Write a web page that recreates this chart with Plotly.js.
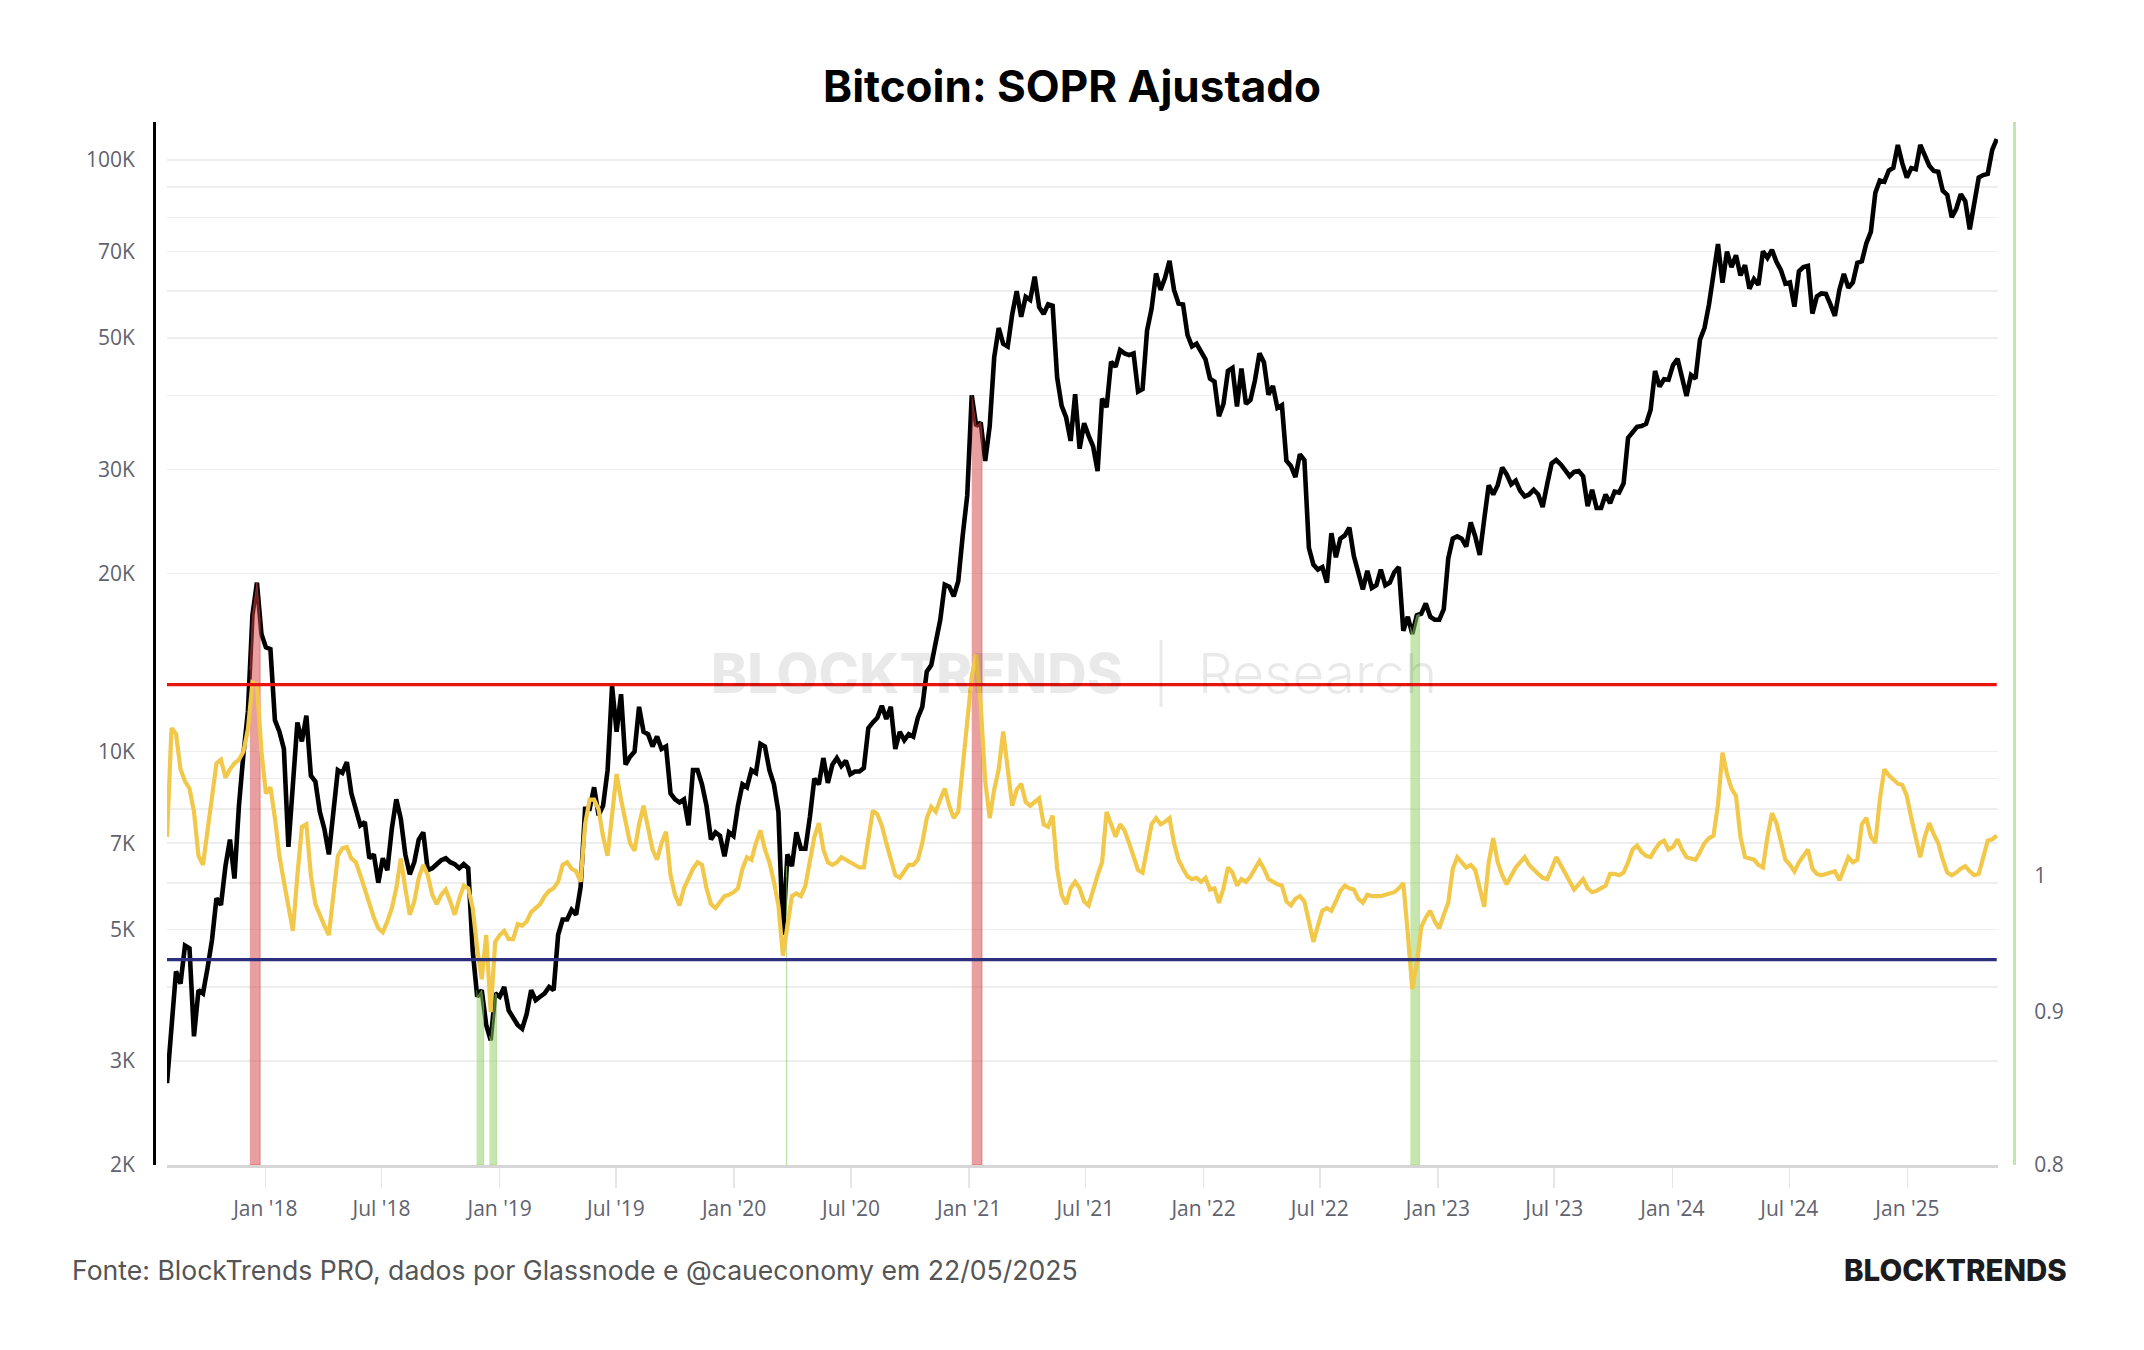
<!DOCTYPE html>
<html>
<head>
<meta charset="utf-8">
<script src="https://cdn.plot.ly/plotly-3.0.1.min.js"></script>
<style>
  html, body { margin: 0; padding: 0; background: #ffffff; }
  #chart { width: 2144px; height: 1350px; }
</style>
</head>
<body>
<div id="chart"></div>
<script>
// Weekly observations (Tuesdays). Each yearly block starts on its first Tuesday.
const blockStarts = ['2017-08-01', '2018-01-02', '2019-01-01', '2020-01-07', '2021-01-05',
                     '2022-01-04', '2023-01-03', '2024-01-02', '2025-01-07'];

// BTC price (USD), one value per week
const price2017 = [2750, 3400, 4250, 4050, 4700,            // Aug
                   4650, 3300, 3950, 3900,                  // Sep
                   4300, 4800, 5650, 5500, 6400,            // Oct
                   7100, 6100, 8100, 9900,                  // Nov
                   11700, 17000, 19300, 15800];             // Dec
const price2018 = [15000, 14900, 11300, 10800, 10100,       // Jan
                   6900, 8600, 11200, 10400,                // Feb
                   11500, 9100, 8900, 7900,                 // Mar
                   7400, 6700, 8000, 9300,                  // Apr
                   9200, 9600, 8500, 8000, 7500,            // May
                   7600, 6600, 6700, 6000,                  // Jun
                   6600, 6300, 7400, 8300, 7700,            // Jul
                   6700, 6200, 6500, 7100,                  // Aug
                   7300, 6300, 6350, 6450,                  // Sep
                   6550, 6600, 6500, 6450, 6350,            // Oct
                   6450, 6350, 4600, 3850,                  // Nov
                   3950, 3450, 3250, 3900];                 // Dec
const price2019 = [3850, 4000, 3650, 3550, 3450,            // Jan
                   3400, 3600, 3950, 3800,                  // Feb
                   3850, 3900, 4000, 3950,                  // Mar
                   4900, 5200, 5200, 5400, 5300,            // Apr
                   5900, 8000, 8000, 8700,                  // May
                   7800, 8100, 9300, 12900,                 // Jun
                   10800, 12500, 9500, 9800, 10000,         // Jul
                   11900, 10800, 10700, 10200,              // Aug
                   10600, 10100, 10200, 8500,               // Sep
                   8300, 8200, 8300, 7500, 9300,            // Oct
                   9300, 8800, 8100, 7100,                  // Nov
                   7300, 7200, 6650, 7300, 7200];           // Dec
const price2020 = [8100, 8800, 8700, 9300,                  // Jan
                   9200, 10300, 10200, 9300,                // Feb
                   8800, 7900, 4900, 6700, 6400,            // Mar
                   7300, 6850, 6850, 7750,                  // Apr
                   9000, 8800, 9750, 8850,                  // May
                   9500, 9750, 9450, 9650, 9150,            // Jun
                   9250, 9250, 9380, 10950,                 // Jul
                   11200, 11400, 11950, 11350,              // Aug
                   11900, 10100, 10800, 10450, 10700,       // Sep
                   10600, 11400, 11900, 13650,              // Oct
                   14000, 15300, 16700, 19150,              // Nov
                   19000, 18300, 19400, 23200, 27100];      // Dec
const price2021 = [40000, 35500, 36000, 31000,              // Jan
                   35500, 46400, 52000, 48900,              // Feb
                   48400, 54800, 60000, 54300, 58700,       // Mar
                   58000, 63500, 56400, 54900,              // Apr
                   57000, 56700, 42900, 38400,              // May
                   36700, 33500, 40200, 32500, 35900,       // Jun
                   34200, 32800, 29800, 39500,              // Jul
                   38200, 45600, 44700, 47700, 47100,       // Aug
                   46800, 47100, 40600, 41000,              // Sep
                   51500, 56000, 64300, 60300,              // Oct
                   63200, 67500, 60300, 57200, 57000,       // Nov
                   50600, 48400, 48900, 47600];             // Dec
const price2022 = [46000, 42700, 42200, 36900,              // Jan
                   38700, 44000, 44500, 38300,              // Feb
                   44400, 38700, 39300, 42400, 47100,       // Mar
                   45500, 40100, 41500, 38100,              // Apr
                   38500, 31000, 30400, 29100, 31800,       // May
                   31100, 22100, 20700, 20300,              // Jun
                   20500, 19300, 23400, 21300,              // Jul
                   22900, 23200, 23900, 21400, 20000,       // Aug
                   18800, 20200, 18900, 19100,              // Sep
                   20300, 19100, 19300, 20100,              // Oct
                   20500, 16000, 16900, 15800, 17000,       // Nov
                   17100, 17800, 16900, 16700];             // Dec
const price2023 = [16700, 17400, 21200, 22900, 23100,       // Jan
                   22900, 22200, 24400, 23100,              // Feb
                   21500, 24700, 28200, 27200,              // Mar
                   28200, 30200, 29400, 28300,              // Apr
                   28700, 27600, 27000, 27200, 27700,       // May
                   27200, 25900, 28300, 30700,              // Jun
                   31100, 30600, 29900, 29200,              // Jul
                   29700, 29800, 29200, 26000, 27700,       // Aug
                   25800, 25800, 27200, 26300,              // Sep
                   27500, 27400, 28400, 33900, 34600,       // Oct
                   35400, 35500, 35800, 37800,              // Nov
                   44000, 41400, 42600, 42500];             // Dec
const price2024 = [45000, 46100, 43100, 39900, 43300,       // Jan
                   42700, 49700, 52000, 57000,              // Feb
                   63800, 72100, 62000, 70000,              // Mar
                   65900, 69000, 63800, 66400, 60600,       // Apr
                   62900, 61500, 70100, 68300,              // May
                   70500, 67300, 65100, 61800,              // Jun
                   62100, 56500, 64800, 65900, 66200,       // Jul
                   55000, 58800, 59500, 59400,              // Aug
                   57000, 54500, 60300, 64200,              // Sep
                   60800, 62100, 67000, 67400, 72300,       // Oct
                   75600, 88000, 92300, 91900,              // Nov
                   96000, 97000, 106000, 98700, 93400];     // Dec
const price2025 = [96900, 96500, 106000, 101300,            // Jan
                   97800, 95800, 95500, 88700,              // Feb
                   87300, 80000, 82700, 87500,              // Mar
                   85200, 76300, 83600, 93400, 94300,       // Apr
                   94700, 104000, 108500];                  // May

// Adjusted SOPR, one value per week
const sopr2017 = [1.030, 1.120, 1.115, 1.085, 1.075,
                  1.069, 1.050, 1.015, 1.008,
                  1.035, 1.060, 1.090, 1.093, 1.078,
                  1.085, 1.090, 1.093, 1.100,
                  1.119, 1.160, 1.158, 1.100];
const sopr2018 = [1.065, 1.070, 1.045, 1.015, 0.995,
                  0.975, 0.958, 1.000, 1.038,
                  1.040, 1.000, 0.978, 0.969,
                  0.962, 0.955, 0.985, 1.015,
                  1.021, 1.022, 1.013, 1.010, 1.000,
                  0.989, 0.978, 0.968, 0.960,
                  0.957, 0.965, 0.975, 0.990, 1.013,
                  0.990, 0.970, 0.980, 0.998,
                  1.008, 1.000, 0.985, 0.978,
                  0.985, 0.989, 0.980, 0.970, 0.982,
                  0.992, 0.990, 0.975, 0.945,
                  0.923, 0.955, 0.900, 0.950];
const sopr2019 = [0.955, 0.958, 0.952, 0.952, 0.963,
                  0.962, 0.965, 0.972, 0.975,
                  0.978, 0.984, 0.988, 0.990,
                  0.995, 1.008, 1.010, 1.005, 1.003,
                  0.995, 1.040, 1.060, 1.060,
                  1.052, 1.030, 1.015, 1.050,
                  1.081, 1.060, 1.040, 1.025, 1.019,
                  1.040, 1.055, 1.035, 1.020,
                  1.012, 1.025, 1.034, 1.000,
                  0.985, 0.977, 0.990, 0.998, 1.005,
                  1.010, 1.008, 0.990, 0.978,
                  0.975, 0.980, 0.984, 0.985, 0.987];
const sopr2020 = [0.990, 1.005, 1.014, 1.012,
                  1.025, 1.035, 1.020, 1.010,
                  0.995, 0.977, 0.940, 0.960, 0.984,
                  0.986, 0.984, 0.992, 1.010,
                  1.030, 1.041, 1.020, 1.010,
                  1.008, 1.010, 1.014, 1.012, 1.010,
                  1.008, 1.006, 1.006, 1.030,
                  1.051, 1.048, 1.039, 1.025,
                  1.012, 1.000, 0.998, 1.003, 1.008,
                  1.008, 1.012, 1.025, 1.045,
                  1.054, 1.050, 1.060, 1.069,
                  1.055, 1.045, 1.050, 1.090, 1.131];
const sopr2021 = [1.165, 1.185, 1.140, 1.075,
                  1.045, 1.068, 1.085, 1.117,
                  1.085, 1.055, 1.068, 1.073, 1.058,
                  1.055, 1.058, 1.061, 1.040,
                  1.038, 1.047, 1.005, 0.985,
                  0.978, 0.990, 0.995, 0.990, 0.980,
                  0.977, 0.990, 1.000, 1.010,
                  1.050, 1.040, 1.030, 1.040, 1.035,
                  1.025, 1.015, 1.004, 1.002,
                  1.020, 1.040, 1.045, 1.040,
                  1.042, 1.045, 1.025, 1.012, 1.005,
                  0.999, 0.997, 0.998, 0.995];
const sopr2022 = [0.998, 0.989, 0.990, 0.979,
                  0.990, 1.006, 1.002, 0.992,
                  0.997, 0.995, 0.999, 1.005, 1.011,
                  1.005, 0.997, 0.995, 0.993,
                  0.992, 0.980, 0.977, 0.982, 0.984,
                  0.980, 0.965, 0.950, 0.962,
                  0.973, 0.975, 0.973, 0.980,
                  0.988, 0.992, 0.990, 0.989, 0.982,
                  0.979, 0.985, 0.984, 0.984,
                  0.984, 0.985, 0.986, 0.987,
                  0.990, 0.994, 0.956, 0.916, 0.934,
                  0.961, 0.968, 0.973, 0.965];
const sopr2023 = [0.960, 0.970, 0.979, 1.005, 1.014,
                  1.010, 1.006, 1.008, 1.004,
                  0.990, 0.976, 1.010, 1.029,
                  1.010, 1.000, 0.993, 1.000,
                  1.006, 1.010, 1.014, 1.008, 1.004,
                  1.001, 0.998, 0.997, 1.005,
                  1.014, 1.008, 1.002, 0.995,
                  0.989, 0.993, 0.997, 0.990, 0.987,
                  0.988, 0.990, 0.992, 1.001,
                  1.001, 1.000, 1.002, 1.010, 1.020,
                  1.023, 1.018, 1.015, 1.014,
                  1.020, 1.025, 1.027, 1.020];
const sopr2024 = [1.022, 1.028, 1.020, 1.014, 1.013,
                  1.012, 1.018, 1.025, 1.029,
                  1.031, 1.056, 1.099, 1.081,
                  1.069, 1.063, 1.030, 1.014, 1.013,
                  1.012, 1.008, 1.006, 1.030,
                  1.049, 1.041, 1.025, 1.012,
                  1.008, 1.003, 1.010, 1.015, 1.020,
                  1.005, 1.001, 1.000, 1.001,
                  1.002, 1.003, 0.996, 1.005,
                  1.014, 1.010, 1.012, 1.040, 1.045,
                  1.030, 1.025, 1.060, 1.085,
                  1.080, 1.076, 1.073, 1.072, 1.063];
const sopr2025 = [1.045, 1.030, 1.014, 1.030,
                  1.041, 1.032, 1.025, 1.012,
                  1.002, 1.000, 1.002, 1.005,
                  1.007, 1.003, 1.000, 1.001, 1.015,
                  1.027, 1.028, 1.031];

// SOPR alert levels and the periods where the price area is highlighted
const soprUpper = 1.158;
const soprLower = 0.937;
const redPeriods = [['2017-12-08', '2017-12-24'], ['2021-01-05', '2021-01-21']];
const greenPeriods = [['2018-11-26', '2018-12-07'], ['2018-12-16', '2018-12-27'],
                      ['2020-03-22', '2020-03-23'], ['2022-11-19', '2022-12-03']];

// Axis ticks
const priceTickVals = [2000, 3000, 4000, 5000, 6000, 7000, 8000, 9000,
                       10000, 20000, 30000, 40000, 50000, 60000, 70000, 80000, 90000, 100000];
const priceTickText = ['2K', '3K', '', '5K', '', '7K', '', '',
                       '10K', '20K', '30K', '', '50K', '', '70K', '', '', '100K'];
const soprTickVals = [0.8, 0.9, 1];
const soprTickText = ['0.8', '0.9', '1'];

const sourceText = 'Fonte: BlockTrends PRO, dados por Glassnode e @caueconomy em 22/05/2025';

// ---- assemble the weekly series ----
const DAY = 864e5;
function weeklyDates(start, n) {
  const t0 = Date.parse(start);
  return Array.from({ length: n }, (_, i) => new Date(t0 + i * 7 * DAY).toISOString().slice(0, 10));
}
const priceBlocks = [price2017, price2018, price2019, price2020, price2021, price2022, price2023, price2024, price2025];
const soprBlocks = [sopr2017, sopr2018, sopr2019, sopr2020, sopr2021, sopr2022, sopr2023, sopr2024, sopr2025];
const dates = [].concat(...priceBlocks.map((b, k) => weeklyDates(blockStarts[k], b.length)));
const price = [].concat(...priceBlocks);
const sopr = [].concat(...soprBlocks);
const times = dates.map(d => Date.parse(d));

const priceRange = [Math.log10(2000), 5.0642];
const soprRange = [Math.log10(0.8), Math.log10(0.8) + 0.3488];
const priceFloor = Math.pow(10, priceRange[0]);

// price on the log axis between two weekly points
function priceAt(t) {
  for (let i = 1; i < times.length; i++) {
    if (t <= times[i]) {
      const f = (t - times[i - 1]) / (times[i] - times[i - 1]);
      return Math.pow(10, Math.log10(price[i - 1]) + f * (Math.log10(price[i]) - Math.log10(price[i - 1])));
    }
  }
  return price[price.length - 1];
}

// shaded area under the price curve for one period
function band(period, color) {
  const t0 = Date.parse(period[0]), t1 = Date.parse(period[1]);
  const xs = [period[0]], ys = [priceAt(t0)];
  for (let i = 0; i < times.length; i++) {
    if (times[i] > t0 && times[i] < t1) { xs.push(dates[i]); ys.push(price[i]); }
  }
  xs.push(period[1], period[1], period[0]);
  ys.push(priceAt(t1), priceFloor, priceFloor);
  return {
    x: xs, y: ys, xaxis: 'x', yaxis: 'y', type: 'scatter', mode: 'lines',
    fill: 'toself', fillcolor: color, line: { width: 1, color: color },
    hoverinfo: 'skip', showlegend: false
  };
}

const traces = [
  {
    x: dates, y: price, xaxis: 'x', yaxis: 'y', type: 'scatter', mode: 'lines',
    line: { color: '#000000', width: 4.6 }, name: 'Preço', showlegend: false
  },
  ...redPeriods.map(p => band(p, 'rgba(212, 63, 63, 0.5)')),
  ...greenPeriods.map(p => band(p, 'rgba(140, 205, 95, 0.5)')),
  {
    x: dates, y: sopr, xaxis: 'x', yaxis: 'y2', type: 'scatter', mode: 'lines',
    line: { color: '#f2c84b', width: 4.2 }, name: 'aSOPR', showlegend: false
  },
  {
    x: [dates[0], dates[dates.length - 1]], y: [soprUpper, soprUpper], xaxis: 'x', yaxis: 'y2',
    type: 'scatter', mode: 'lines', line: { color: '#e8150f', width: 3.2 }, hoverinfo: 'skip', showlegend: false
  },
  {
    x: [dates[0], dates[dates.length - 1]], y: [soprLower, soprLower], xaxis: 'x', yaxis: 'y2',
    type: 'scatter', mode: 'lines', line: { color: '#2c2f7c', width: 3.2 }, hoverinfo: 'skip', showlegend: false
  }
];

const tickFont = { family: 'Open Sans, sans-serif', size: 21, color: '#60636f' };
const watermark = 'rgba(0, 0, 0, 0.085)';

const layout = {
  width: 2144, height: 1350,
  paper_bgcolor: '#ffffff', plot_bgcolor: '#ffffff',
  margin: { l: 154, r: 130, t: 122, b: 185, pad: 0 },
  showlegend: false,
  font: tickFont,
  title: {
    text: 'Bitcoin: SOPR Ajustado',
    font: { family: 'Inter, sans-serif', size: 44, color: '#000000', weight: 700 },
    x: 0.5, xref: 'container', xanchor: 'center',
    y: 1 - 87 / 1350, yref: 'container', yanchor: 'middle'
  },
  xaxis: {
    type: 'date', domain: [0.007, 0.9914],
    range: ['2017-08-01', '2025-05-22'],
    showgrid: false, zeroline: false,
    showline: true, linecolor: '#d6d6d6', linewidth: 3,
    ticks: 'outside', ticklen: 20, tickwidth: 1.5, tickcolor: '#e6e6e6',
    tick0: '2018-01-01', dtick: 'M6', tickformat: "%b '%y",
    tickfont: tickFont, ticklabelstandoff: 3
  },
  yaxis: {
    type: 'log', range: priceRange,
    anchor: 'free', position: 0,
    showline: true, linecolor: '#000000', linewidth: 3,
    showgrid: true, gridcolor: '#eeeeee', gridwidth: 1.5, zeroline: false,
    tickmode: 'array', tickvals: priceTickVals, ticktext: priceTickText,
    ticks: '', tickfont: tickFont, ticklabelstandoff: 14
  },
  yaxis2: {
    type: 'log', range: soprRange,
    overlaying: 'y', side: 'right', anchor: 'free', position: 1,
    showline: true, linecolor: '#c3e6ad', linewidth: 3,
    showgrid: false, zeroline: false,
    tickmode: 'array', tickvals: soprTickVals, ticktext: soprTickText,
    ticks: '', tickfont: tickFont, ticklabelstandoff: 14
  },
  annotations: [
    {
      text: 'BLOCKTRENDS', xref: 'paper', yref: 'paper', x: 0.4102, y: 0.4717,
      xanchor: 'center', yanchor: 'middle', showarrow: false,
      font: { family: 'Inter, sans-serif', size: 54.5, color: watermark, weight: 800 }
    },
    {
      text: 'Research', xref: 'paper', yref: 'paper', x: 0.5602, y: 0.4717,
      xanchor: 'left', yanchor: 'middle', showarrow: false,
      font: { family: 'Inter, sans-serif', size: 55, color: watermark, weight: 300 }
    },
    {
      text: sourceText, xref: 'paper', yref: 'paper', x: -0.04516, y: -0.1007,
      xanchor: 'left', yanchor: 'middle', showarrow: false,
      font: { family: 'Inter, sans-serif', size: 26.6, color: '#555555' }
    },
    {
      text: 'BLOCKTRENDS', xref: 'paper', yref: 'paper', x: 1.0296, y: -0.1007,
      xanchor: 'right', yanchor: 'middle', showarrow: false,
      font: { family: 'Inter, sans-serif', size: 29.5, color: '#1c1c1e', weight: 800 }
    }
  ],
  shapes: [
    {
      type: 'line', xref: 'paper', yref: 'paper', x0: 0.5414, x1: 0.5414, y0: 0.4391, y1: 0.5034,
      line: { color: watermark, width: 3 }
    }
  ]
};

Plotly.newPlot('chart', traces, layout, { displayModeBar: false, staticPlot: true });
</script>
</body>
</html>
